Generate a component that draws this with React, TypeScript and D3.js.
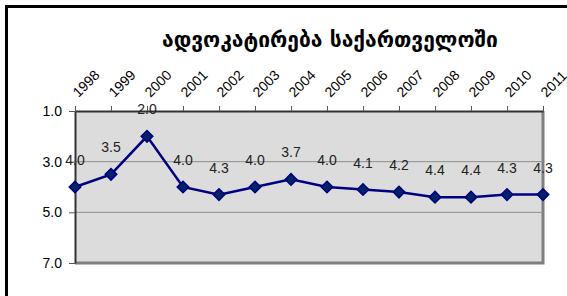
import React, { useEffect, useRef } from "react";
import * as d3 from "d3";

const years = ["1998", "1999", "2000", "2001", "2002", "2003", "2004", "2005", "2006", "2007", "2008", "2009", "2010", "2011"];
const scores = [4.0, 3.5, 2.0, 4.0, 4.3, 4.0, 3.7, 4.0, 4.1, 4.2, 4.4, 4.4, 4.3, 4.3];
const yTicks = [1, 3, 5, 7];
const title = "ადვოკატირება საქართველოში";

const App = () => {
  const svgRef = useRef<SVGSVGElement>(null);

  useEffect(() => {
    const width = 567;
    const height = 296;
    const margin = { top: 111, right: 24, bottom: 33, left: 75 };

    const svg = d3.select(svgRef.current).attr("width", width).attr("height", height);
    svg.selectAll("*").remove();

    // outer chart frame (runs off the page on the right and bottom)
    svg
      .append("rect")
      .attr("x", 6.5)
      .attr("y", 6.5)
      .attr("width", 700)
      .attr("height", 400)
      .attr("fill", "#fff")
      .attr("stroke", "#000")
      .attr("stroke-width", 3);

    const x = d3
      .scalePoint<string>()
      .domain(years)
      .range([margin.left, width - margin.right]);

    const y = d3
      .scaleLinear()
      .domain([1, 7])
      .range([margin.top, height - margin.bottom]);

    const x0 = margin.left;
    const x1 = width - margin.right;
    const y0 = margin.top;
    const y1 = height - margin.bottom;

    // plot area with shadow-ish gray border
    svg
      .append("rect")
      .attr("x", x0)
      .attr("y", y0)
      .attr("width", x1 - x0)
      .attr("height", y1 - y0)
      .attr("fill", "#dcdcdc");
    svg
      .append("path")
      .attr("d", `M${x1},${y0}V${y1}H${x0}`)
      .attr("fill", "none")
      .attr("stroke", "#7f7f7f")
      .attr("stroke-width", 3);

    // gridlines
    svg
      .append("g")
      .selectAll("line")
      .data(yTicks.filter((d) => d !== 1 && d !== 7))
      .join("line")
      .attr("x1", x0)
      .attr("x2", x1)
      .attr("y1", (d) => y(d))
      .attr("y2", (d) => y(d))
      .attr("stroke", "#8c8c8c")
      .attr("stroke-width", 1);

    // top category axis
    const xAxis = svg
      .append("g")
      .attr("transform", `translate(0,${y0})`)
      .call(d3.axisTop(x).tickSize(5).tickSizeOuter(0));
    xAxis.select(".domain").attr("stroke", "#333").attr("stroke-width", 2);
    xAxis.selectAll(".tick line").attr("stroke", "#555");
    xAxis
      .selectAll(".tick text")
      .attr("x", 0)
      .attr("y", 0)
      .attr("dy", 0)
      .attr("transform", "translate(3,-13) rotate(-45)")
      .style("text-anchor", "start")
      .style("font-family", "'Liberation Sans', Arial, sans-serif")
      .style("font-size", "14px")
      .attr("fill", "#000");

    // left value axis
    const yAxis = svg
      .append("g")
      .attr("transform", `translate(${x0},0)`)
      .call(
        d3
          .axisLeft(y)
          .tickValues(yTicks)
          .tickSize(6)
          .tickSizeOuter(0)
          .tickPadding(7)
          .tickFormat(d3.format(".1f"))
      );
    yAxis.select(".domain").attr("stroke", "#333").attr("stroke-width", 2);
    yAxis.selectAll(".tick line").attr("stroke", "#555");
    yAxis
      .selectAll(".tick text")
      .style("font-family", "'Liberation Sans', Arial, sans-serif")
      .style("font-size", "14px")
      .attr("fill", "#000");

    // line
    const line = d3
      .line<number>()
      .x((d, i) => x(years[i]) as number)
      .y((d) => y(d));
    svg
      .append("path")
      .datum(scores)
      .attr("fill", "none")
      .attr("stroke", "#000080")
      .attr("stroke-width", 2.5)
      .attr("d", line);

    // diamond markers
    const diamond = d3.symbol().type(d3.symbolDiamond2).size(85);
    svg
      .append("g")
      .selectAll("path")
      .data(scores)
      .join("path")
      .attr("d", diamond)
      .attr("transform", (d, i) => `translate(${x(years[i])},${y(d)})`)
      .attr("fill", "#002266")
      .attr("stroke", "#000080")
      .attr("stroke-width", 1.5);

    // data labels
    svg
      .append("g")
      .selectAll("text")
      .data(scores)
      .join("text")
      .attr("x", (d, i) => x(years[i]) as number)
      .attr("y", (d) => y(d) - 22)
      .attr("text-anchor", "middle")
      .style("font-family", "'Liberation Sans', Arial, sans-serif")
      .style("font-size", "14px")
      .attr("fill", "#222")
      .text((d) => d.toFixed(1));

    // title
    svg
      .append("text")
      .attr("x", 330)
      .attr("y", 47)
      .attr("text-anchor", "middle")
      .style("font-family", "'DejaVu Sans', sans-serif")
      .style("font-weight", "bold")
      .style("font-size", "21px")
      .attr("fill", "#000")
      .text(title);
  }, []);

  return (
    <div>
      <svg ref={svgRef} style={{ position: "absolute", left: 0, top: 0 }}></svg>
    </div>
  );
};

export default App;
